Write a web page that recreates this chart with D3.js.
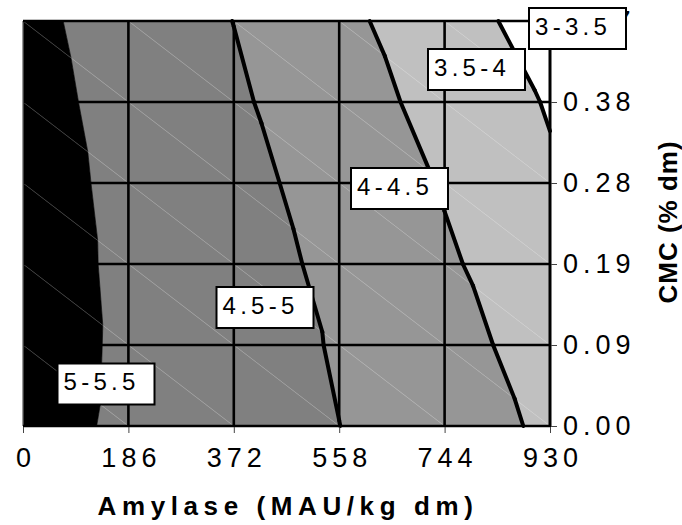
<!DOCTYPE html>
<html>
<head>
<meta charset="utf-8">
<script src="https://cdn.jsdelivr.net/npm/d3@7"></script>
<style>
  html, body { margin: 0; padding: 0; background: #fff; }
  svg { display: block; font-family: "Liberation Sans", Arial, sans-serif; }
</style>
</head>
<body>
<svg id="chart" width="682" height="525"></svg>
<script>
// Amylase doses along x, CMC doses along y (evenly spaced categories)
const amylase = [0, 186, 372, 558, 744, 930];
const cmcLabels = ["0.00", "0.09", "0.19", "0.28", "0.38", "0.47"];

// Response surface: one row per CMC level (bottom to top), one value per amylase dose
const rowCmc000 = [5.151, 4.935, 4.718, 4.503, 4.215, 3.927];
const rowCmc009 = [5.179, 4.941, 4.730, 4.460, 4.145, 3.830];
const rowCmc019 = [5.184, 4.926, 4.710, 4.387, 4.063, 3.700];
const rowCmc028 = [5.180, 4.901, 4.647, 4.309, 3.966, 3.564];
const rowCmc038 = [5.158, 4.858, 4.568, 4.213, 3.847, 3.464];
const rowCmc047 = [5.119, 4.807, 4.495, 4.117, 3.712, 3.296];

// Contour bands
const bandLevels = [3, 3.5, 4, 4.5, 5, 5.5];
const bandNames = ["3-3.5", "3.5-4", "4-4.5", "4.5-5", "5-5.5"];
const bandColors = ["#ffffff", "#c0c0c0", "#969696", "#808080", "#000000"];
const lineLevels = [3.5, 4, 4.5];

const surface = [rowCmc000, rowCmc009, rowCmc019, rowCmc028, rowCmc038, rowCmc047];

const plot = { left: 23, right: 550, top: 21, bottom: 426 };
const svg = d3.select("#chart");

const x = d3.scaleLinear().domain([0, 930]).range([plot.left, plot.right]);
const y = d3.scalePoint().domain(cmcLabels).range([plot.bottom, plot.top]);

const vertex = (i, j) => ({ x: x(amylase[i]), y: y(cmcLabels[j]), z: surface[j][i] });

// Each grid cell is split along its top-left to bottom-right diagonal
const triangles = [];
for (let j = 0; j < cmcLabels.length - 1; j++) {
  for (let i = 0; i < amylase.length - 1; i++) {
    const bl = vertex(i, j), br = vertex(i + 1, j), tl = vertex(i, j + 1), tr = vertex(i + 1, j + 1);
    triangles.push([tl, tr, br], [tl, bl, br]);
  }
}

function lerp(a, b, level) {
  const t = (level - a.z) / (b.z - a.z);
  return { x: a.x + t * (b.x - a.x), y: a.y + t * (b.y - a.y), z: level };
}

// Sutherland-Hodgman clip of a polygon against z >= level (above) or z <= level
function clip(poly, level, above) {
  const inside = p => above ? p.z >= level : p.z <= level;
  const out = [];
  for (let k = 0; k < poly.length; k++) {
    const a = poly[k], b = poly[(k + 1) % poly.length];
    const ia = inside(a), ib = inside(b);
    if (ia) out.push(a);
    if (ia !== ib) out.push(lerp(a, b, level));
  }
  return out;
}

const line = d3.line().x(d => d.x).y(d => d.y);

// Filled bands
const gBands = svg.append("g");
bandNames.forEach((name, k) => {
  const lo = bandLevels[k], hi = bandLevels[k + 1];
  triangles.forEach(tri => {
    let p = clip(tri, lo, true);
    if (p.length >= 3) p = clip(p, hi, false);
    if (p.length >= 3) {
      gBands.append("path")
        .attr("d", line(p) + "Z")
        .attr("fill", bandColors[k])
        .attr("stroke", bandColors[k])
        .attr("stroke-width", 0.6);
    }
  });
});

// Faint triangulation seams
const gSeams = svg.append("g");
for (let j = 0; j < cmcLabels.length - 1; j++) {
  for (let i = 0; i < amylase.length - 1; i++) {
    gSeams.append("line")
      .attr("x1", x(amylase[i])).attr("y1", y(cmcLabels[j + 1]))
      .attr("x2", x(amylase[i + 1])).attr("y2", y(cmcLabels[j]))
      .attr("stroke", "#fff").attr("stroke-opacity", 0.28).attr("stroke-width", 0.8);
  }
}

// Gridlines
const gGrid = svg.append("g").attr("stroke", "#000").attr("stroke-width", 2.6);
amylase.slice(1, -1).forEach(v => {
  gGrid.append("line").attr("x1", x(v)).attr("x2", x(v)).attr("y1", plot.top).attr("y2", plot.bottom);
});
cmcLabels.slice(1, -1).forEach(v => {
  gGrid.append("line").attr("x1", plot.left).attr("x2", plot.right).attr("y1", y(v)).attr("y2", y(v));
});

// Contour lines
const gLines = svg.append("g");
lineLevels.forEach(level => {
  triangles.forEach(tri => {
    const pts = [];
    for (let k = 0; k < 3; k++) {
      const a = tri[k], b = tri[(k + 1) % 3];
      if ((a.z - level) * (b.z - level) < 0) pts.push(lerp(a, b, level));
    }
    if (pts.length === 2) {
      gLines.append("path").attr("d", line(pts))
        .attr("fill", "none").attr("stroke", "#000")
        .attr("stroke-width", 4).attr("stroke-linecap", "round");
    }
  });
});

// Frame
svg.append("line").attr("x1", plot.left).attr("x2", plot.left).attr("y1", plot.top).attr("y2", plot.bottom)
  .attr("stroke", "#808080").attr("stroke-width", 1);
svg.append("line").attr("x1", plot.left).attr("x2", plot.right).attr("y1", plot.top).attr("y2", plot.top)
  .attr("stroke", "#000").attr("stroke-width", 2.6);
svg.append("line").attr("x1", plot.left).attr("x2", plot.right).attr("y1", plot.bottom).attr("y2", plot.bottom)
  .attr("stroke", "#000").attr("stroke-width", 2.6);
svg.append("line").attr("x1", plot.right).attr("x2", plot.right).attr("y1", plot.top - 1).attr("y2", plot.bottom + 1)
  .attr("stroke", "#000").attr("stroke-width", 3);

// Axes
const xAxis = d3.axisBottom(x).tickValues(amylase).tickFormat(d3.format("d")).tickSize(7).tickSizeOuter(0);
const gx = svg.append("g").attr("transform", `translate(0,${plot.bottom})`).call(xAxis)
  .attr("font-size", null).attr("font-family", null);
gx.select(".domain").remove();
gx.selectAll(".tick line").attr("stroke", "#444").attr("y1", 1);
gx.selectAll(".tick text")
  .attr("y", 41).attr("dy", 0).attr("dx", 2.5).attr("fill", "#000")
  .style("font-size", "27px").style("letter-spacing", "5px");

const yAxis = d3.axisRight(y).tickSize(7).tickSizeOuter(0);
const gy = svg.append("g").attr("transform", `translate(${plot.right},0)`).call(yAxis)
  .attr("font-size", null).attr("font-family", null);
gy.select(".domain").remove();
gy.selectAll(".tick line").attr("stroke", "#444").attr("x1", 1);
gy.selectAll(".tick text")
  .attr("x", 13).attr("dy", 0).attr("y", 8.5).attr("fill", "#000")
  .style("font-size", "27px").style("letter-spacing", "5px");

// Axis titles
svg.append("text")
  .attr("x", 288).attr("y", 515).attr("text-anchor", "middle")
  .style("font-weight", "bold").style("font-size", "26px").style("letter-spacing", "5.6px")
  .text("Amylase (MAU/kg dm)");
svg.append("text")
  .attr("transform", "translate(677,222) rotate(-90)").attr("text-anchor", "middle")
  .style("font-weight", "bold").style("font-size", "26px").style("letter-spacing", "1px")
  .text("CMC (% dm)");

// Band labels (box left/top in pixels)
const labelLayout = [
  { name: "3-3.5", left: 529, top: 8 },
  { name: "3.5-4", left: 428, top: 49 },
  { name: "4-4.5", left: 351, top: 168 },
  { name: "4.5-5", left: 216.5, top: 287 },
  { name: "5-5.5", left: 57.5, top: 363.5 }
];
const gLab = svg.append("g");
labelLayout.forEach(l => {
  gLab.append("rect").attr("x", l.left).attr("y", l.top).attr("width", 97).attr("height", 41)
    .attr("fill", "#fff").attr("stroke", "#000").attr("stroke-width", 2);
  gLab.append("text").attr("x", l.left + 6).attr("y", l.top + 26.5)
    .style("font-size", "24px").style("letter-spacing", "4.3px")
    .text(bandNames.find(n => n === l.name));
});
</script>
</body>
</html>
